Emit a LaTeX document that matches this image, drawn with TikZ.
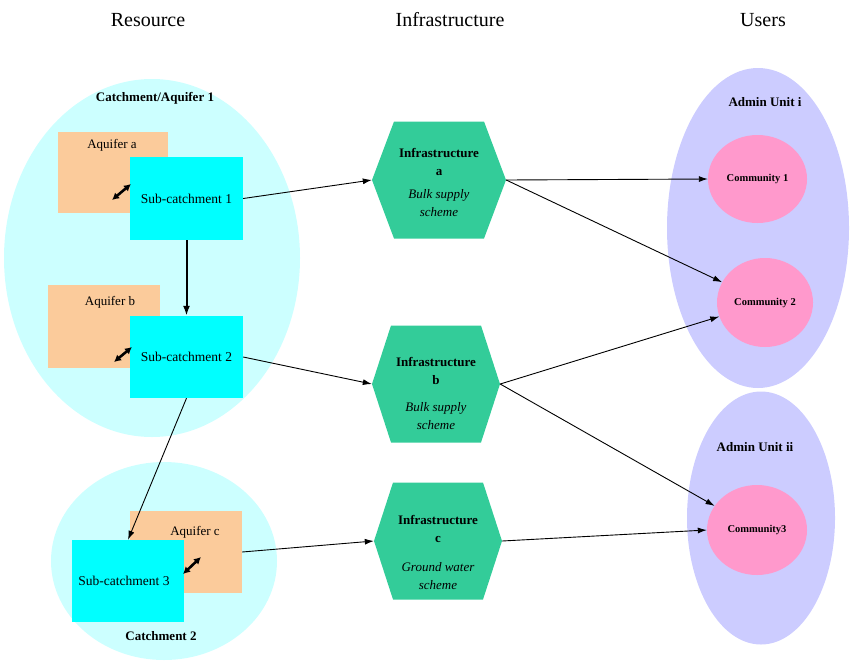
\documentclass[tikz,border=0pt]{standalone}
\usepackage{fontspec}
\setmainfont{Liberation Serif}
\usetikzlibrary{shapes.geometric,arrows.meta,calc}
\definecolor{lcyan}{HTML}{CCFFFF}
\definecolor{cyanbox}{HTML}{00FFFF}
\definecolor{peach}{HTML}{FBCB9B}
\definecolor{hexgreen}{HTML}{33CC99}
\definecolor{lav}{HTML}{CCCCFF}
\definecolor{pinkc}{HTML}{FF99CC}
\begin{document}
\begin{tikzpicture}[x=1pt,y=-1pt,
  title/.style={font=\fontsize{20}{22}\selectfont},
  region/.style={ellipse, fill=lcyan, inner sep=0},
  admin/.style={ellipse, fill=lav, inner sep=0},
  comm/.style={ellipse, fill=pinkc, inner sep=0, font=\fontsize{10.5}{12}\selectfont\bfseries},
  boldlab/.style={font=\fontsize{13}{15}\selectfont\bfseries},
  aq/.style={rectangle, fill=peach, inner sep=0},
  aqlab/.style={font=\fontsize{13}{15}\selectfont},
  sub/.style={rectangle, fill=cyanbox, inner sep=0, font=\fontsize{13.5}{15}\selectfont},
  hexnode/.style={rectangle, inner sep=0, minimum width=#1, minimum height=116},
  hextext/.style={align=center, font=\fontsize{13}{18}\selectfont},
  conn/.style={line width=0.9pt, -{Latex[length=9pt,width=6pt]}},
  thickconn/.style={line width=2pt, -{Latex[length=10pt,width=7pt]}},
  dbl/.style={line width=2.6pt, {Latex[length=7pt,width=7.5pt]}-{Latex[length=7pt,width=7.5pt]}}
]
\useasboundingbox (0,0) rectangle (850,664);

% titles
\node[title] (tres) at (148,20) {Resource};
\node[title] (tinf) at (450,20) {Infrastructure};
\node[title] (tusr) at (763,20) {Users};

% resource side
\node[region, minimum width=296, minimum height=358] (c1) at (152,258) {};
\node[region, minimum width=226, minimum height=198] (c2) at (164,561) {};
\node[boldlab] (c1lab) at (155,98) {Catchment/Aquifer 1};
\node[boldlab] (c2lab) at (161,636) {Catchment 2};

\node[aq, minimum width=110, minimum height=81] (aqa) at (113,172.5) {};
\node[aqlab] (aqalab) at (112,145) {Aquifer a};
\node[sub, minimum width=113, minimum height=83] (s1) at (186.5,198.5) {Sub-catchment 1};

\node[aq, minimum width=112, minimum height=83] (aqb) at (104,326.5) {};
\node[aqlab] (aqblab) at (110,302) {Aquifer b};
\node[sub, minimum width=113, minimum height=82] (s2) at (186.5,357) {Sub-catchment 2};

\node[aq, minimum width=112, minimum height=82] (aqc) at (186,552) {};
\node[aqlab] (aqclab) at (195,532) {Aquifer c};
\node[sub, minimum width=112, minimum height=82] (s3) at (128,581) {\hspace*{-8pt}Sub-catchment 3};

% double arrows aquifer <-> sub-catchment
\coordinate (da1) at (112,200); \coordinate (da2) at (131,184);
\coordinate (db1) at (114,362); \coordinate (db2) at (132,347);
\coordinate (dc1) at (183,574); \coordinate (dc2) at (201,557);
\draw[dbl] (da1) -- (da2);
\draw[dbl] (db1) -- (db2);
\draw[dbl] (dc1) -- (dc2);

% hexagons
\newcommand{\hexagonat}[4]{% name, x, y, halfwidth
  \fill[hexgreen] ($(#2,#3)+(-#4,0)$) -- ($(#2,#3)+(-45,-58.5)$) -- ($(#2,#3)+(45,-58.5)$)
    -- ($(#2,#3)+(#4,0)$) -- ($(#2,#3)+(45,58.5)$) -- ($(#2,#3)+(-45,58.5)$) -- cycle;
  \node[hexnode=2*#4] (#1) at (#2,#3) {};}
\hexagonat{ia}{439}{180}{67}
\hexagonat{ib}{436}{384}{64}
\hexagonat{ic}{438}{541}{64}
\node[hextext] (iatext) at (439,182.5) {\textbf{Infrastructure}\\\textbf{a}\\[5pt]\textit{Bulk supply}\\\textit{scheme}};
\node[hextext] (ibtext) at (436,393) {\textbf{Infrastructure}\\\textbf{b}\\[9pt]\textit{Bulk supply}\\\textit{scheme}};
\node[hextext] (ictext) at (438,552) {\textbf{Infrastructure}\\\textbf{c}\\[11pt]\textit{Ground water}\\\textit{scheme}};

% users side
\node[admin, minimum width=182, minimum height=320] (au1) at (758,228) {};
\node[admin, minimum width=148, minimum height=253] (au2) at (761,518) {};
\node[boldlab] (au1lab) at (765,102) {Admin Unit i};
\node[boldlab] (au2lab) at (755,447) {Admin Unit ii};
\node[comm, minimum width=99, minimum height=88] (cm1) at (757.5,179) {Community 1};
\node[comm, minimum width=96, minimum height=89] (cm2) at (765,302.5) {Community 2};
\node[comm, minimum width=100, minimum height=90] (cm3) at (757,530) {Community3};

% connectors
\draw[thickconn] (s1.south) -- (s2.north);
\draw[conn] (s2.south) -- (s3.north);
\draw[conn] (s1.east) -- (ia.west);
\draw[conn] (s2.east) -- (ib.west);
\draw[conn] (aqc.east) -- (ic.west);
\draw[conn] (ia.east) -- (cm1.west);
\draw[conn] (ia.east) -- (cm2);
\draw[conn] (ib.east) -- (cm2);
\draw[conn] (ib.east) -- (cm3);
\draw[conn] (ic.east) -- (cm3.west);
\end{tikzpicture}
\end{document}
